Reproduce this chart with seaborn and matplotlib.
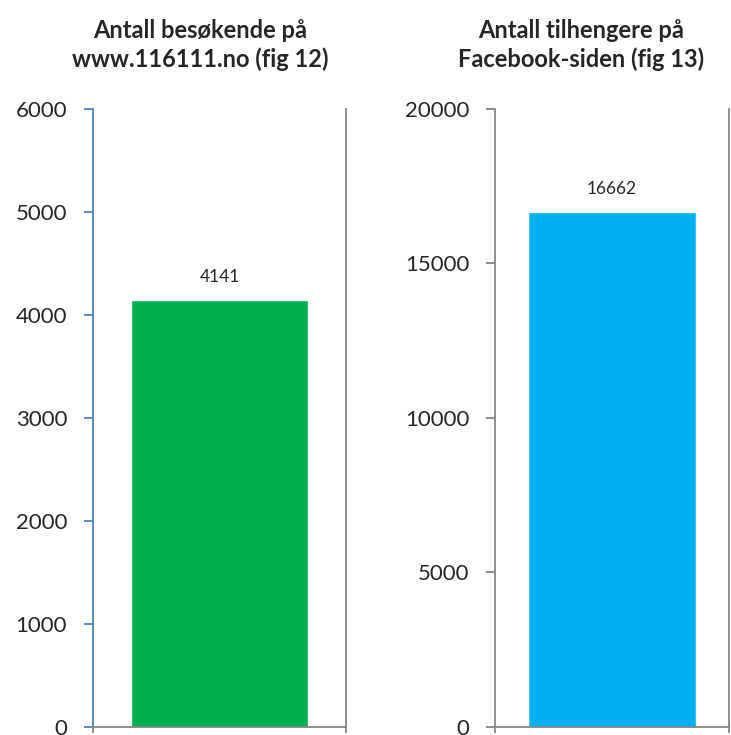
import pandas as pd
import matplotlib
matplotlib.use("Agg")
import matplotlib.pyplot as plt
import seaborn as sns

# Data
left_title = "Antall besøkende på\nwww.116111.no (fig 12)"
right_title = "Antall tilhengere på\nFacebook-siden (fig 13)"
left_category = ["Besøkende"]
left_values = [4141]
right_category = ["Tilhengere"]
right_values = [16662]
left_ticks = [0, 1000, 2000, 3000, 4000, 5000, 6000]
right_ticks = [0, 5000, 10000, 15000, 20000]

sns.set_style("white")
plt.rcParams['font.family'] = ['Lato', 'DejaVu Sans']

GRAY = "#868686"
BLUE = "#4F81BD"

fig = plt.figure(figsize=(7.31, 7.35), dpi=100)
ax1 = fig.add_axes([0.127, 0.011, 0.347, 0.841])
ax2 = fig.add_axes([0.677, 0.011, 0.320, 0.841])

df1 = pd.DataFrame({'Kategori': left_category, 'Antall': left_values})
df2 = pd.DataFrame({'Kategori': right_category, 'Antall': right_values})

sns.barplot(data=df1, x='Kategori', y='Antall', color="#00B050", width=0.70,
            saturation=1, ax=ax1)
sns.barplot(data=df2, x='Kategori', y='Antall', color="#00B0F0", width=0.72,
            saturation=1, ax=ax2)


def style_axis(ax, ticks, ycolor, title, pos):
    ax.set_ylim(ticks[0], ticks[-1])
    ax.set_yticks(ticks)
    ax.set_yticklabels([str(t) for t in ticks], fontsize=16)
    ax.set_xlim(-0.5, 0.5)
    ax.set_xticks([-0.5, 0.5])
    ax.set_xticklabels(["", ""])
    ax.set_xlabel("")
    ax.set_ylabel("")
    ax.spines['top'].set_visible(False)
    ax.spines['left'].set_color(ycolor)
    ax.spines['left'].set_linewidth(1.3)
    ax.spines['right'].set_color(GRAY)
    ax.spines['right'].set_linewidth(1.3)
    ax.spines['bottom'].set_color(GRAY)
    ax.spines['bottom'].set_linewidth(1.3)
    ax.tick_params(axis='y', left=True, direction='out', length=6.5,
                   width=1.3, color=ycolor, pad=12)
    ax.tick_params(axis='x', bottom=True, direction='out', length=4,
                   width=1.3, color=GRAY)
    for c in ax.containers:
        ax.bar_label(c, fmt='%d', fontsize=12.5, padding=11)
    fig.text(pos[0], pos[1], title, ha='center', va='center',
             fontsize=17, fontweight='bold', linespacing=1.3)


style_axis(ax1, left_ticks, BLUE, left_title, (0.274, 0.939))
style_axis(ax2, right_ticks, GRAY, right_title, (0.795, 0.939))

plt.savefig("out.png", dpi=100)
